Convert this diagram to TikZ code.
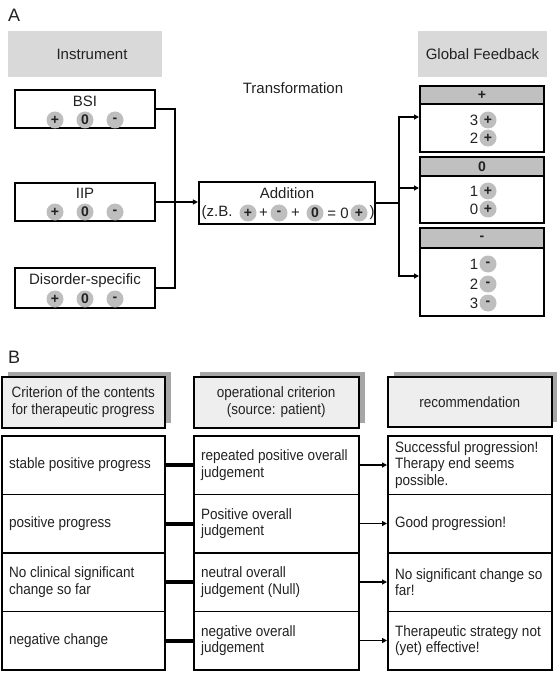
\documentclass[tikz,border=0pt]{standalone}
\usepackage{fontspec}
\setmainfont{Liberation Sans}
\newfontfamily\bfont[FakeStretch=0.9]{Liberation Sans}
\usetikzlibrary{arrows.meta,shadows}
\definecolor{hdrgray}{HTML}{D9D9D9}
\definecolor{fbgray}{HTML}{C0C0C0}
\definecolor{pcgray}{HTML}{BEBEBE}
\definecolor{lightfill}{HTML}{EEEEEE}
\definecolor{shadowgray}{HTML}{A6A6A6}
\definecolor{txt}{HTML}{222222}
\begin{document}
\begin{tikzpicture}[x=1pt,y=-1pt,
  every node/.style={text=txt,inner sep=0pt},
  afont/.style={font=\fontsize{15}{17}\selectfont},
  letter/.style={font=\fontsize{18}{18}\selectfont,anchor=west},
  graybox/.style={fill=hdrgray,afont},
  abox/.style={draw=black,line width=2.2pt,fill=white},
  pc/.style={circle,fill=pcgray,minimum size=17pt,font=\bfseries\fontsize{14}{14}\selectfont},
  fbhead/.style={draw=black,line width=2pt,fill=fbgray,minimum width=124pt,font=\bfseries\fontsize{14}{14}\selectfont},
  fbbody/.style={draw=black,line width=2pt,fill=white,minimum width=124pt},
  conn/.style={line width=1.6pt},
  arr/.style={conn,-{Triangle[length=5pt,width=5pt]}},
  bfnt/.style={font=\bfont\fontsize{15}{16.5}\selectfont},
  bhead/.style={draw=black,line width=1.5pt,fill=lightfill,bfnt,align=center,anchor=north west,
     drop shadow={shadow xshift=6pt,shadow yshift=5pt,opacity=1,fill=shadowgray}},
  bcell/.style={draw=black,line width=1.5pt,fill=white,anchor=north west,minimum height=58.5pt},
  btext/.style={bfnt,align=left,anchor=west},
  thick link/.style={line width=4pt},
  thin arr/.style={line width=1.3pt,-{Triangle[length=5pt,width=5pt]}}
]
\useasboundingbox (0,0) rectangle (556,676);

% ---------- Part A ----------
\node[letter] (lA) at (8,15) {A};
\node[graybox,minimum width=154pt,minimum height=46pt] (instr) at (85,54) {\hspace*{14pt}Instrument};
\node[graybox,minimum width=129pt,minimum height=46pt] (glob) at (482.5,54) {Global Feedback};
\node[afont] (trans) at (293,88) {Transformation};

\node[abox,minimum width=140pt,minimum height=38pt] (bsi) at (85,109) {};
\node[afont] (bsi-t) at (85,101) {BSI};
\node[abox,minimum width=140pt,minimum height=38pt] (iip) at (85,202) {};
\node[afont] (iip-t) at (85,193) {IIP};
\node[abox,minimum width=140pt,minimum height=40pt] (dis) at (85,288) {};
\node[afont] (dis-t) at (85,281) {Disorder-specific};
\foreach \bx/\yy in {bsi/120,iip/212,dis/299}{
  \node[pc] (\bx-p) at (55,\yy) {+};
  \node[pc] (\bx-z) at (85,\yy) {0};
  \node[pc] (\bx-m) at (115,\yy) {-};
}

\node[abox,minimum width=176pt,minimum height=42pt] (add) at (287,203) {};
\node[afont] (add-t) at (287,193) {Addition};
\node[afont] (a1) at (217,213) {(z.B.};
\node[pc] (a2) at (248,213) {+};
\node[afont] (a3) at (263.5,213) {+};
\node[pc] (a4) at (279,213) {-};
\node[afont] (a5) at (295.5,213) {+};
\node[pc] (a6) at (315,213) {0};
\node[afont] (a7) at (338,213) {= 0};
\node[pc] (a8) at (359,213) {+};
\node[afont] (a9) at (372,213) {)};

\coordinate (jA) at (175,202);
\draw[conn] (bsi.east) -| (jA) |- (dis.east);
\draw[arr] (iip.east) -- (add.west |- iip.east);

% feedback boxes
\node[fbhead,minimum height=18pt] (ph) at (482,95) {+};
\node[fbbody,minimum height=48pt] (pb) at (482,128) {};
\node[fbhead,minimum height=19pt] (zh) at (482,166.5) {0};
\node[fbbody,minimum height=47pt] (zb) at (482,199.5) {};
\node[fbhead,minimum height=20pt] (mh) at (482,238) {-};
\node[fbbody,minimum height=68pt] (mb) at (482,282) {};

\foreach \nm/\num/\sym/\yy in {p3/3/+/120,p2/2/+/138,z1/1/+/191,z0/0/+/209,m1/1/-/264,m2/2/-/284,m3/3/-/303}{
  \node[afont] (\nm-n) at (474,\yy) {\num};
  \node[pc] (\nm-c) at (488,\yy) {\sym};
}

\coordinate (jB) at (399,203);
\draw[conn] (add.east) -- (jB);
\draw[arr] (jB) |- ([yshift=11pt]pb.west);
\draw[arr] (jB) |- ([yshift=11.5pt]zb.west);
\draw[arr] (jB) |- ([yshift=6pt]mb.west);

% ---------- Part B ----------
\node[letter] (lB) at (8,357) {B};
\node[bhead,minimum width=163pt,minimum height=51pt] (h1) at (1,376) {Criterion of the contents\\for therapeutic progress};
\node[bhead,minimum width=165pt,minimum height=51pt] (h2) at (193,376) {operational criterion\\(source: patient)};
\node[bhead,minimum width=164pt,minimum height=50pt] (h3) at (387,376) {recommendation};

\foreach \r/\yy/\ta/\tb/\tc in {
  1/435/{stable positive progress}/{repeated positive overall\\judgement}/{Successful progression!\\Therapy end seems\\possible.},
  2/493.5/{positive progress}/{Positive overall\\judgement}/{Good progression!},
  3/552/{No clinical significant\\change so far}/{neutral overall\\judgement (Null)}/{No significant change so\\far!},
  4/610.5/{negative change}/{negative overall\\judgement}/{Therapeutic strategy not\\(yet) effective!}}{
  \node[bcell,minimum width=163pt] (c\r a) at (1,\yy) {};
  \node[bcell,minimum width=165pt] (c\r b) at (193,\yy) {};
  \node[bcell,minimum width=164pt] (c\r c) at (387,\yy) {};
  \node[btext] (t\r a) at ([xshift=8pt]c\r a.west) {\ta};
  \node[btext] (t\r b) at ([xshift=8pt]c\r b.west) {\tb};
  \node[btext] (t\r c) at ([xshift=8pt]c\r c.west) {\tc};
  \draw[thick link] (c\r a.east) -- (c\r b.west);
  \draw[thin arr] (c\r b.east) -- (c\r c.west);
}
\end{tikzpicture}
\end{document}
